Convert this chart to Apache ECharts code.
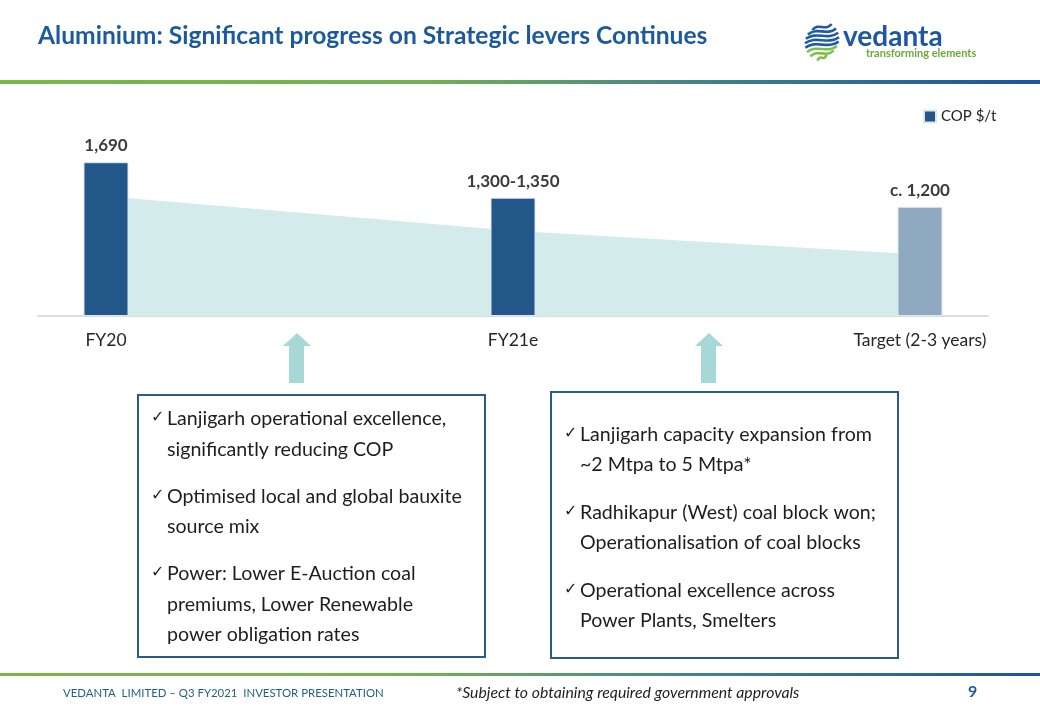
<!DOCTYPE html>
<html>
<head>
<meta charset="utf-8">
<script src="https://cdn.jsdelivr.net/npm/echarts/dist/echarts.min.js"></script>
<style>
  html, body { margin: 0; padding: 0; background: #fff; }
  #main { width: 1040px; height: 720px; }
</style>
</head>
<body>
<div id="main"></div>
<script>
// chart data
const categories = ['FY20', 'FY21e', 'Target (2-3 years)'];
const copValues = [1690, 1300, 1200];
const copLabels = ['1,690', '1,300-1,350', 'c. 1,200'];
// light band behind the bars (reduction trend)
const trendValues = [1317, 938, 677];

// strategic levers text
const leftLevers = [
  ['Lanjigarh operational excellence,', 'significantly reducing COP'],
  ['Optimised local and global bauxite', 'source mix'],
  ['Power: Lower E-Auction coal', 'premiums, Lower Renewable', 'power obligation rates']
];
const rightLevers = [
  ['Lanjigarh capacity expansion from', '~2 Mtpa to 5 Mtpa*'],
  ['Radhikapur (West) coal block won;', 'Operationalisation of coal blocks'],
  ['Operational excellence across', 'Power Plants, Smelters']
];

const BLUE = '#22578a';
const FONT = 'Lato, "Open Sans", sans-serif';

const chart = echarts.init(document.getElementById('main'));

function gradientBar(y, h) {
  return {
    type: 'rect',
    shape: {x: 0, y: y, width: 1040, height: h},
    style: {
      fill: new echarts.graphic.LinearGradient(0, 0, 1, 0, [
        {offset: 0, color: '#78b845'},
        {offset: 0.4, color: '#73b34f'},
        {offset: 0.7, color: '#3c7f8e'},
        {offset: 1, color: '#1a55a0'}
      ])
    }
  };
}

// bullet list inside a box
function leverText(list, x0, y0, lineGap, paraGap) {
  const els = [];
  let y = y0;
  list.forEach((lines, i) => {
    if (i > 0) y += paraGap;
    els.push({
      type: 'text', x: x0 - 16, y: y - 1,
      style: {text: '\u2713', font: '16px "DejaVu Sans"', fill: '#222', verticalAlign: 'middle'}
    });
    lines.forEach((line, j) => {
      if (j > 0) y += lineGap;
      els.push({
        type: 'text', x: x0, y: y,
        style: {text: line, font: '19.6px ' + FONT, fill: '#1e1e1e', verticalAlign: 'middle'}
      });
    });
  });
  return els;
}

function upArrow(cx) {
  return {
    type: 'polygon',
    shape: {
      points: [[cx - 14, 346], [cx, 333], [cx + 14, 346], [cx + 7, 346],
               [cx + 7, 383], [cx - 8, 383], [cx - 8, 346]]
    },
    style: {fill: '#a6d8d8'}
  };
}

// rough vedanta emblem: wavy stripes in a circle
function logoStripes() {
  const els = [];
  const cx = 822, cy = 41, r = 17;
  for (let i = 0; i < 8; i++) {
    const y = cy - r + 3 + i * 4.4;
    const dy = Math.abs(y - cy);
    const hw = Math.sqrt(Math.max(r * r - dy * dy, 20));
    els.push({
      type: 'bezierCurve',
      shape: {
        x1: cx - hw, y1: y + 3, x2: cx + hw, y2: y - 3,
        cpx1: cx - hw / 3, cpy1: y - 5, cpx2: cx + hw / 3, cpy2: y + 5
      },
      style: {stroke: i < 5 ? '#1f5aa6' : '#7cc04a', lineWidth: 2.6, fill: null}
    });
  }
  return els;
}

const graphics = [
  {
    type: 'text', x: 38, y: 36,
    style: {
      text: 'Aluminium: Significant progress on Strategic levers Continues',
      font: 'bold 24.6px ' + FONT, fill: '#1b5b9d', verticalAlign: 'middle'
    }
  },
  ...logoStripes(),
  {
    type: 'text', x: 843, y: 37,
    style: {text: 'vedanta', font: 'bold 28px ' + FONT, fill: '#1f56a3', verticalAlign: 'middle'}
  },
  {
    type: 'text', x: 866, y: 53,
    style: {text: 'transforming elements', font: 'bold 11px ' + FONT, fill: '#6aaa3a', verticalAlign: 'middle'}
  },
  gradientBar(80, 4),
  upArrow(297),
  upArrow(709),
  {
    type: 'rect', shape: {x: 138, y: 395, width: 347, height: 262},
    style: {fill: '#fff', stroke: '#2d5b87', lineWidth: 2}
  },
  {
    type: 'rect', shape: {x: 551, y: 392, width: 347, height: 266},
    style: {fill: '#fff', stroke: '#2d5b87', lineWidth: 2}
  },
  ...leverText(leftLevers, 167, 419, 30.5, 47),
  ...leverText(rightLevers, 580, 435, 30, 48),
  gradientBar(673, 3),
  {
    type: 'text', x: 63, y: 693,
    style: {text: 'VEDANTA  LIMITED \u2013 Q3 FY2021  INVESTOR PRESENTATION', font: '11.4px ' + FONT, fill: '#1f5f88', verticalAlign: 'middle'}
  },
  {
    type: 'text', x: 456, y: 693,
    style: {text: '*Subject to obtaining required government approvals', font: 'italic 15.8px ' + FONT, fill: '#1e1e1e', verticalAlign: 'middle'}
  },
  {
    type: 'text', x: 968, y: 692,
    style: {text: '9', font: 'bold 16px ' + FONT, fill: '#1f5a96', verticalAlign: 'middle'}
  }
];

const option = {
  animation: false,
  textStyle: {fontFamily: FONT},
  legend: {
    data: ['COP $/t'],
    left: 918, top: 104,
    icon: 'rect', itemWidth: 12, itemHeight: 12, itemGap: 8,
    textStyle: {fontSize: 15, color: '#222'}
  },
  grid: [
    {left: 106, right: 120, top: 134, bottom: 404},
    {left: 38, right: 52, top: 134, bottom: 404}
  ],
  xAxis: [
    {
      type: 'category', gridIndex: 0, data: categories, boundaryGap: false,
      axisLine: {show: false}, axisTick: {show: false},
      axisLabel: {fontSize: 17.5, color: '#262626', margin: 15}
    },
    {
      type: 'category', gridIndex: 1, data: [''],
      axisLine: {lineStyle: {color: '#d8dde4', width: 2}},
      axisTick: {show: false}, axisLabel: {show: false}
    }
  ],
  yAxis: [
    {type: 'value', gridIndex: 0, min: 0, max: 2000, show: false},
    {type: 'value', gridIndex: 1, min: 0, max: 2000, show: false}
  ],
  series: [
    {
      name: 'trend', type: 'line', data: trendValues,
      symbol: 'none', lineStyle: {width: 0},
      areaStyle: {color: '#d3ebea', opacity: 1}, z: 1, silent: true
    },
    {
      name: 'COP $/t', type: 'bar', barWidth: 45, z: 3,
      itemStyle: {color: BLUE, borderColor: '#dce7f1', borderWidth: 1},
      data: copValues.map((v, i) => i === 2
        ? {value: v, itemStyle: {color: '#8fa9c0'}}
        : v),
      label: {
        show: true, position: 'top', distance: 8,
        fontSize: 17, fontWeight: 'bold', color: '#3c3c3c',
        formatter: p => copLabels[p.dataIndex]
      }
    }
  ],
  graphic: graphics
};

chart.setOption(option);
</script>
</body>
</html>
